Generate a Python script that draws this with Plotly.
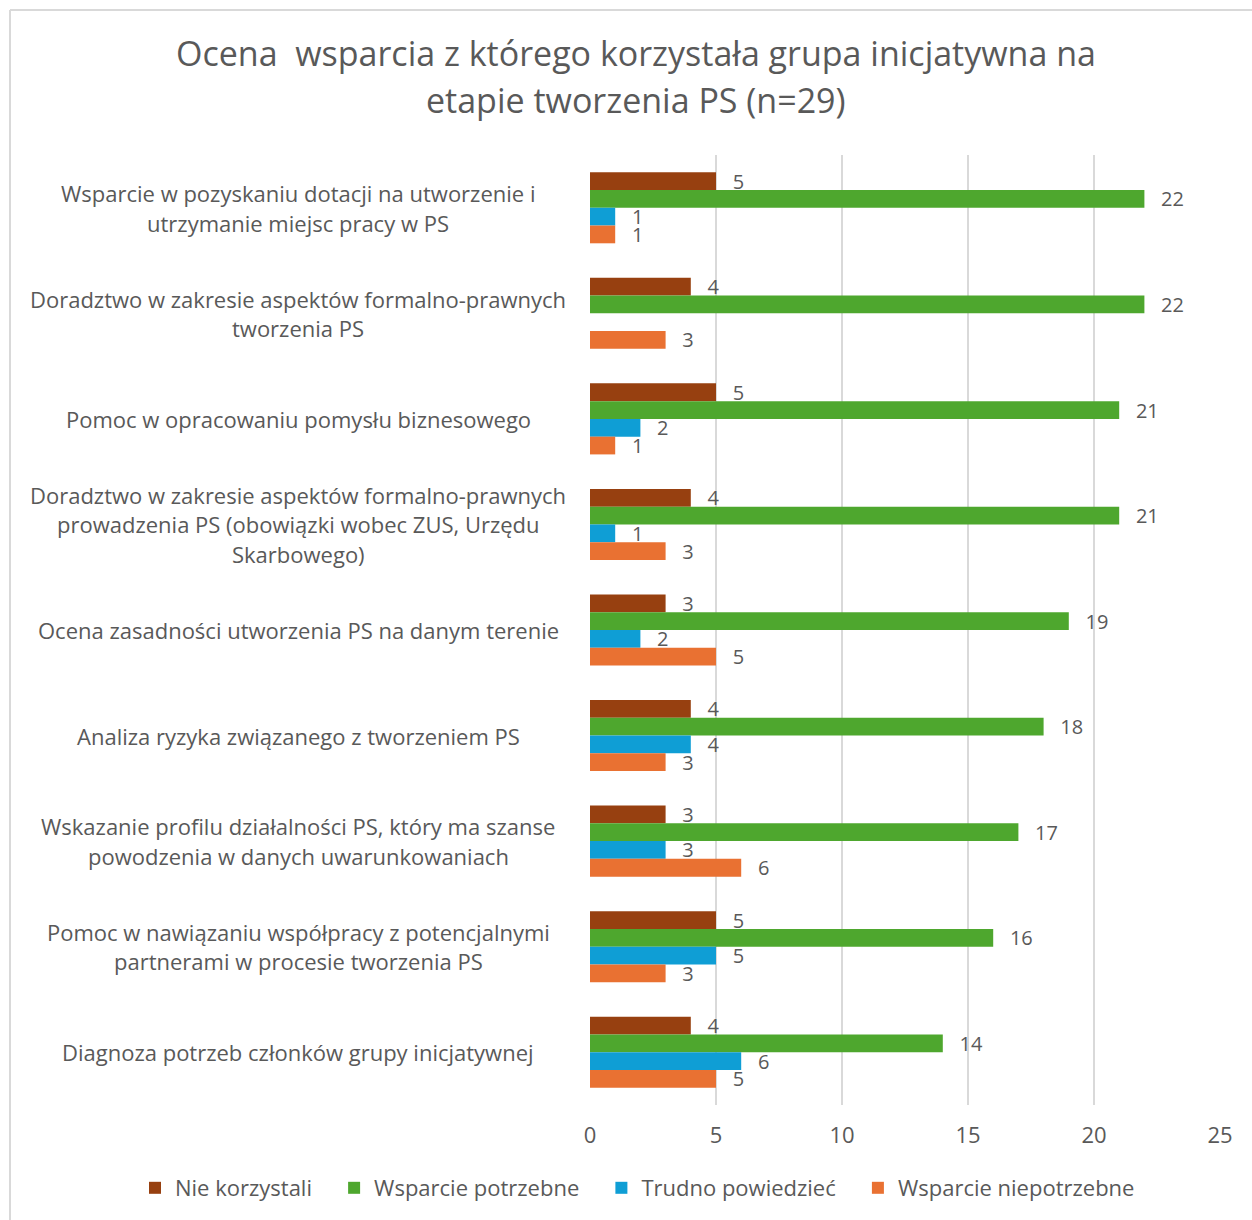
import plotly.graph_objects as go

categories = [
    "Wsparcie w pozyskaniu dotacji na utworzenie i<br>utrzymanie miejsc pracy w PS",
    "Doradztwo w zakresie aspektów formalno-prawnych<br>tworzenia PS",
    "Pomoc w opracowaniu pomysłu biznesowego",
    "Doradztwo w zakresie aspektów formalno-prawnych<br>prowadzenia PS (obowiązki wobec ZUS, Urzędu<br>Skarbowego)",
    "Ocena zasadności utworzenia PS na danym terenie",
    "Analiza ryzyka związanego z tworzeniem PS",
    "Wskazanie profilu działalności PS, który ma szanse<br>powodzenia w danych uwarunkowaniach",
    "Pomoc w nawiązaniu współpracy z potencjalnymi<br>partnerami w procesie tworzenia PS",
    "Diagnoza potrzeb członków grupy inicjatywnej",
]
nie_korzystali = [5, 4, 5, 4, 3, 4, 3, 5, 4]
wsparcie_potrzebne = [22, 22, 21, 21, 19, 18, 17, 16, 14]
trudno_powiedziec = [1, None, 2, 1, 2, 4, 3, 5, 6]
wsparcie_niepotrzebne = [1, 3, 1, 3, 5, 3, 6, 3, 5]
series_names = ["Nie korzystali", "Wsparcie potrzebne", "Trudno powiedzieć", "Wsparcie niepotrzebne"]
series_values = [nie_korzystali, wsparcie_potrzebne, trudno_powiedziec, wsparcie_niepotrzebne]
colors = ["#974010", "#4EA72E", "#0F9ED5", "#E97132"]
title_lines = ["Ocena  wsparcia z którego korzystała grupa inicjatywna na", "etapie tworzenia PS (n=29)"]
x_ticks = [0, 5, 10, 15, 20, 25]

FONT = "Open Sans"
TXT = "#595959"
W, H = 1252, 1220
L, R, T, B = 590, 1220, 155, 1105
pw, ph = R - L, B - T
LEGEND_PAD = "\u00a0\u00a0\u00a0"

fig = go.Figure()
for name, vals, col in zip(series_names, series_values, colors):
    fig.add_trace(go.Bar(
        y=categories, x=vals, name=name + LEGEND_PAD, orientation="h",
        marker=dict(color=col, line=dict(width=0)),
        texttemplate="\u00a0\u00a0\u2009%{x}", textposition="outside",
        textfont=dict(family=FONT, size=20, color=TXT),
        constraintext="none", cliponaxis=False,
        hovertemplate=name + ": %{x}<extra></extra>",
    ))

annotations = []
for cat in categories:
    lines = cat.split("<br>")
    n = len(lines)
    for i, ln in enumerate(lines):
        annotations.append(dict(
            x=(298 - L) / pw, xref="paper", y=cat, yref="y", text=ln, showarrow=False,
            xanchor="center", yanchor="middle",
            yshift=-(i - (n - 1) / 2) * 29.5,
            font=dict(family=FONT, size=22, color=TXT),
        ))

title_y_px = [53, 100]
for ln, ypx in zip(title_lines, title_y_px):
    annotations.append(dict(
        x=(636 - L) / pw, xref="paper", y=(B - ypx) / ph, yref="paper",
        text=ln, showarrow=False, xanchor="center", yanchor="middle",
        font=dict(family=FONT, size=34, color=TXT),
    ))

shapes = [
    dict(type="line", xref="paper", yref="paper",
         x0=(10 - L) / pw, x1=(W + 5 - L) / pw, y0=(B - 10) / ph, y1=(B - 10) / ph,
         line=dict(color="#D9D9D9", width=2)),
    dict(type="line", xref="paper", yref="paper",
         x0=(10 - L) / pw, x1=(10 - L) / pw, y0=(B - 10) / ph, y1=(B - H - 5) / ph,
         line=dict(color="#D9D9D9", width=2)),
]

fig.update_layout(
    width=W, height=H,
    margin=dict(l=L, r=W - R, t=T, b=H - B, autoexpand=False),
    paper_bgcolor="white", plot_bgcolor="white",
    barmode="group", bargap=0.327, bargroupgap=0,
    font=dict(family=FONT, size=22, color=TXT),
    annotations=annotations, shapes=shapes,
    showlegend=True,
    legend=dict(orientation="h", xref="paper", yref="paper",
                x=(135 - L) / pw, y=(B - 1188) / ph, xanchor="left", yanchor="middle",
                font=dict(family=FONT, size=22, color=TXT), traceorder="normal",
                itemwidth=30, bgcolor="rgba(0,0,0,0)"),
    xaxis=dict(range=[0, 25], tickvals=x_ticks, showgrid=True, gridcolor="#D9D9D9",
               gridwidth=1.5, zeroline=False, showline=False, ticks="",
               tickfont=dict(family=FONT, size=22, color=TXT), ticklabelstandoff=15),
    yaxis=dict(autorange="reversed", showticklabels=False, showgrid=False,
               zeroline=False, showline=False, ticks=""),
)

fig.write_html("out.html")
